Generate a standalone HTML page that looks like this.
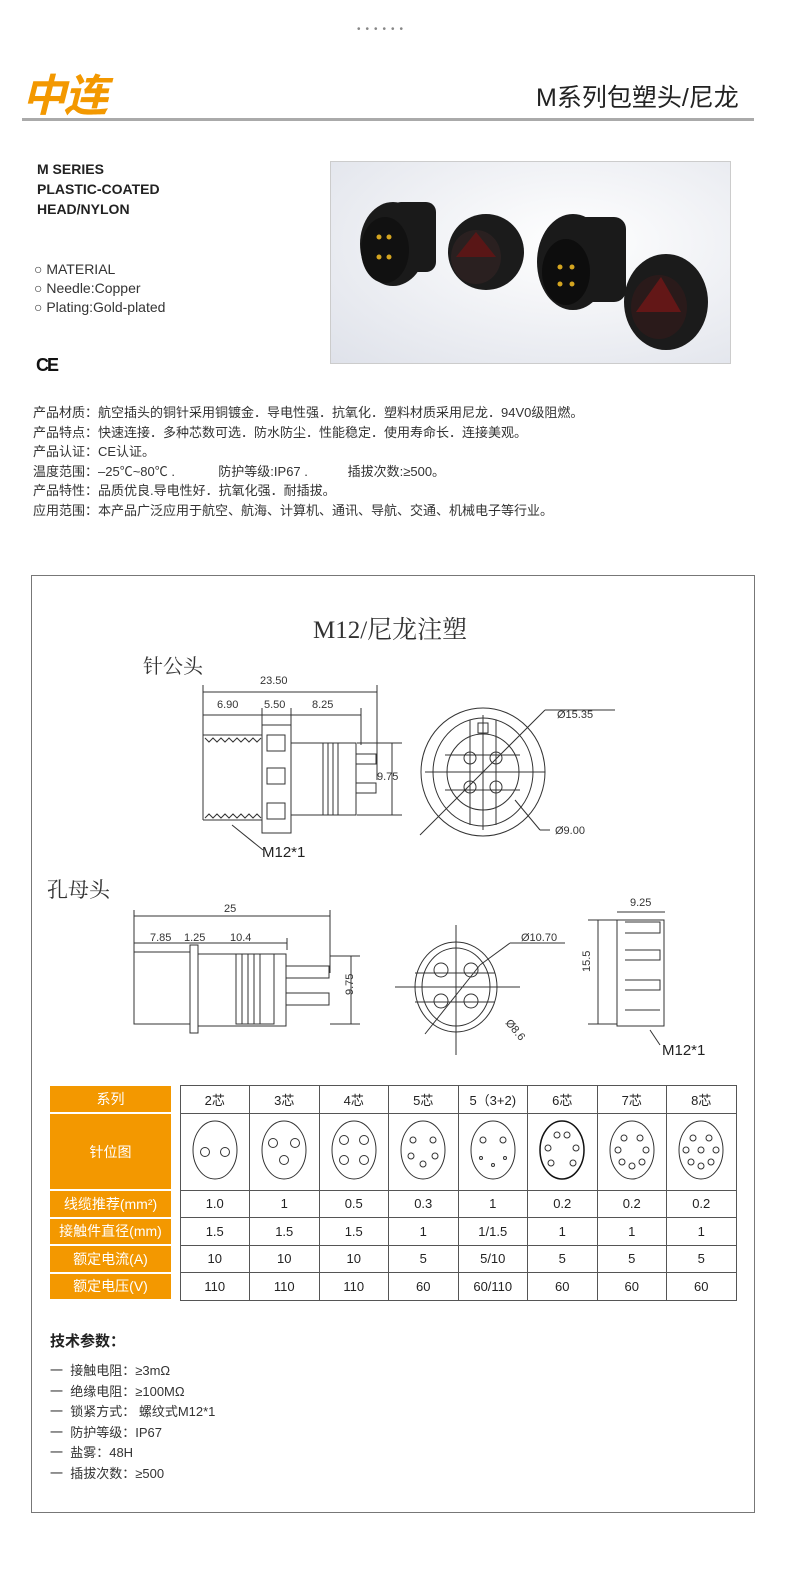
<!DOCTYPE html>
<html><head><meta charset="utf-8"><style>
*{margin:0;padding:0;box-sizing:border-box}
body{width:790px;height:1574px;background:#fff;position:relative;font-family:"Liberation Sans","Noto Sans CJK SC",sans-serif;color:#222;overflow:hidden}
.a{position:absolute;white-space:nowrap}
.desc{left:33px;top:403px;font-size:13px;line-height:19.6px;color:#333}
table{border-collapse:collapse;position:absolute;left:50px;top:1085px;font-size:13px}
td{border:1px solid #555;text-align:center;width:69.5px;height:27.5px;color:#222}
td.h{background:#f39800;color:#fff;width:121px;border:none;border-bottom:2px solid #fff;font-size:14px}
td.g{border-top:none;border-bottom:none;border-left:none;width:9px;background:#fff}
</style></head><body>
<div class="a" style="left:357px;top:24px;font-size:10px;color:#888;letter-spacing:5px">••••••</div>
<div class="a" style="left:22px;top:60px;font-size:44px;font-weight:bold;font-style:italic;color:#f39800;letter-spacing:-2px">中连</div>
<div class="a" style="left:536px;top:78px;font-size:25px;color:#222">M系列包塑头/尼龙</div>
<div class="a" style="left:22px;top:118px;width:732px;height:3px;background:#aaa"></div>
<div class="a" style="left:37px;top:159px;font-size:14px;font-weight:bold;line-height:20px">M SERIES<br>PLASTIC-COATED<br>HEAD/NYLON</div>
<div class="a" style="left:34px;top:260px;font-size:14px;line-height:19px;color:#333">○ MATERIAL<br>○ Needle:Copper<br>○ Plating:Gold-plated</div>
<div class="a" style="left:36px;top:355px;font-size:18px;font-weight:bold;letter-spacing:-2px;color:#111">CE</div>
<div class="a" style="left:330px;top:161px;width:401px;height:203px;border:1px solid #ccc;background:radial-gradient(ellipse at 60% 40%,#fff,#dfe2ea)">
<svg width="401" height="203">
<g fill="#1a1a1a"><ellipse cx="62" cy="82" rx="33" ry="42"/><rect x="60" y="40" width="45" height="70" rx="10"/><ellipse cx="54" cy="88" rx="24" ry="33" fill="#111"/></g>
<g fill="#d4a520"><circle cx="48" cy="75" r="2.5"/><circle cx="58" cy="75" r="2.5"/><circle cx="48" cy="95" r="2.5"/><circle cx="58" cy="95" r="2.5"/></g>
<ellipse cx="155" cy="90" rx="38" ry="38" fill="#1b1b1b"/><ellipse cx="145" cy="95" rx="25" ry="27" fill="#2a2020"/><path d="M125 95 L145 70 L165 95Z" fill="#7a1010" opacity=".6"/>
<g fill="#1a1a1a"><ellipse cx="242" cy="100" rx="36" ry="48"/><rect x="240" y="55" width="55" height="85" rx="12"/></g><ellipse cx="235" cy="110" rx="24" ry="33" fill="#0d0d0d"/>
<g fill="#d4a520"><circle cx="229" cy="105" r="2.5"/><circle cx="241" cy="105" r="2.5"/><circle cx="229" cy="122" r="2.5"/><circle cx="241" cy="122" r="2.5"/></g>
<ellipse cx="335" cy="140" rx="42" ry="48" fill="#1b1b1b"/><ellipse cx="328" cy="145" rx="28" ry="32" fill="#2a1a1a"/><path d="M305 150 L330 115 L350 150Z" fill="#8a1515" opacity=".6"/>
</svg></div>
<div class="a desc">产品材质：航空插头的铜针采用铜镀金．导电性强．抗氧化．塑料材质采用尼龙．94V0级阻燃。<br>产品特点：快速连接．多种芯数可选．防水防尘．性能稳定．使用寿命长．连接美观。<br>产品认证：CE认证。<br>温度范围：–25℃~80℃ .&nbsp;&nbsp;&nbsp;&nbsp;&nbsp;&nbsp;&nbsp;&nbsp;&nbsp;&nbsp;&nbsp;&nbsp;防护等级:IP67 .&nbsp;&nbsp;&nbsp;&nbsp;&nbsp;&nbsp;&nbsp;&nbsp;&nbsp;&nbsp;&nbsp;插拔次数:≥500。<br>产品特性：品质优良.导电性好．抗氧化强．耐插拔。<br>应用范围：本产品广泛应用于航空、航海、计算机、通讯、导航、交通、机械电子等行业。</div>

<div class="a" style="left:31px;top:575px;width:724px;height:938px;border:1px solid #777"></div>
<div class="a" style="left:313px;top:610px;font-size:25px;font-family:'Liberation Serif','Noto Serif CJK SC',serif;color:#333">M12/尼龙注塑</div>
<div class="a" style="left:143px;top:650px;font-size:20px;font-family:'Liberation Serif','Noto Serif CJK SC',serif;color:#333">针公头</div>
<div class="a" style="left:47px;top:874px;font-size:21px;font-family:'Liberation Serif','Noto Serif CJK SC',serif;color:#333">孔母头</div>

<svg class="a" style="left:0;top:650px" width="790" height="420" font-family="Liberation Sans" font-size="11" fill="none" stroke="#333" stroke-width="1">
<line x1="203" y1="42" x2="377" y2="42"/><line x1="203" y1="35" x2="203" y2="170"/><line x1="377" y1="35" x2="377" y2="130"/>
<line x1="203" y1="65" x2="361" y2="65"/><line x1="262" y1="58" x2="262" y2="80"/><line x1="291" y1="58" x2="291" y2="80"/><line x1="361" y1="58" x2="361" y2="95"/>
<text x="260" y="34" fill="#333" stroke="none">23.50</text><text x="217" y="58" fill="#333" stroke="none">6.90</text><text x="264" y="58" fill="#333" stroke="none">5.50</text><text x="312" y="58" fill="#333" stroke="none">8.25</text>
<path d="M203 85 L262 85 L262 170 L203 170" /><path d="M205 88 l4 4 l4 -4 l4 4 l4 -4 l4 4 l4 -4 l4 4 l4 -4 l4 4 l4 -4 l4 4 l4 -4 l4 4 l4 -4"/><path d="M205 168 l4 -4 l4 4 l4 -4 l4 4 l4 -4 l4 4 l4 -4 l4 4 l4 -4 l4 4 l4 -4 l4 4 l4 -4 l4 4"/>
<rect x="262" y="75" width="29" height="108"/><rect x="267" y="85" width="18" height="16"/><rect x="267" y="118" width="18" height="16"/><rect x="267" y="153" width="18" height="16"/>
<rect x="291" y="93" width="65" height="72"/><rect x="323" y="93" width="33" height="72"/><line x1="328" y1="93" x2="328" y2="165"/><line x1="333" y1="93" x2="333" y2="165"/><line x1="338" y1="93" x2="338" y2="165"/>
<rect x="356" y="104" width="20" height="10"/><rect x="356" y="133" width="20" height="10"/>
<line x1="357" y1="93" x2="402" y2="93"/><line x1="357" y1="165" x2="402" y2="165"/><line x1="392" y1="93" x2="392" y2="165"/><text x="377" y="130" fill="#333" stroke="none">9.75</text>
<line x1="232" y1="175" x2="263" y2="200"/><text x="262" y="207" fill="#222" stroke="none" font-size="15">M12*1</text>
<ellipse cx="483" cy="122" rx="62" ry="64"/><ellipse cx="483" cy="122" rx="50" ry="54"/><ellipse cx="483" cy="122" rx="36" ry="38"/>
<line x1="445" y1="105" x2="520" y2="105"/><line x1="445" y1="140" x2="520" y2="140"/><line x1="470" y1="70" x2="470" y2="175"/><line x1="496" y1="70" x2="496" y2="175"/>
<line x1="425" y1="122" x2="545" y2="122"/><line x1="483" y1="65" x2="483" y2="180"/>
<circle cx="470" cy="108" r="6"/><circle cx="496" cy="108" r="6"/><circle cx="470" cy="137" r="6"/><circle cx="496" cy="137" r="6"/><rect x="478" y="73" width="10" height="10"/>
<line x1="420" y1="185" x2="545" y2="60"/><line x1="545" y1="60" x2="615" y2="60"/><text x="557" y="68" fill="#333" stroke="none">Ø15.35</text>
<line x1="515" y1="150" x2="540" y2="180"/><line x1="540" y1="180" x2="550" y2="180"/><text x="555" y="184" fill="#333" stroke="none">Ø9.00</text>
<line x1="134" y1="266" x2="330" y2="266"/><line x1="134" y1="260" x2="134" y2="330"/><line x1="330" y1="260" x2="330" y2="323"/>
<line x1="134" y1="293" x2="287" y2="293"/><line x1="287" y1="288" x2="287" y2="300"/><text x="224" y="262" fill="#333" stroke="none">25</text>
<text x="150" y="291" fill="#333" stroke="none">7.85</text><text x="184" y="291" fill="#333" stroke="none">1.25</text><text x="230" y="291" fill="#333" stroke="none">10.4</text>
<rect x="134" y="302" width="56" height="72"/><rect x="190" y="295" width="8" height="88"/><rect x="198" y="304" width="88" height="72"/><rect x="236" y="304" width="38" height="70"/>
<line x1="242" y1="304" x2="242" y2="374"/><line x1="248" y1="304" x2="248" y2="374"/><line x1="254" y1="304" x2="254" y2="374"/><line x1="260" y1="304" x2="260" y2="374"/>
<rect x="286" y="316" width="43" height="12"/><rect x="286" y="343" width="43" height="12"/><line x1="330" y1="306" x2="360" y2="306"/><line x1="330" y1="374" x2="360" y2="374"/><line x1="351" y1="306" x2="351" y2="374"/>
<text x="340" y="348" fill="#333" stroke="none" transform="rotate(-90 345 340)">9.75</text>
<ellipse cx="456" cy="337" rx="41" ry="45"/><ellipse cx="456" cy="337" rx="34" ry="39"/>
<circle cx="441" cy="320" r="7"/><circle cx="471" cy="320" r="7"/><circle cx="441" cy="351" r="7"/><circle cx="471" cy="351" r="7"/>
<line x1="415" y1="323" x2="495" y2="323"/><line x1="415" y1="352" x2="495" y2="352"/><line x1="395" y1="337" x2="520" y2="337"/><line x1="456" y1="275" x2="456" y2="405"/>
<line x1="425" y1="384" x2="480" y2="315"/><line x1="480" y1="315" x2="510" y2="293"/><line x1="510" y1="293" x2="565" y2="293"/><text x="521" y="291" fill="#333" stroke="none">Ø10.70</text>
<text x="505" y="373" fill="#333" stroke="none" transform="rotate(50 505 373)">Ø8.6</text>
<rect x="617" y="270" width="47" height="106"/><line x1="617" y1="262" x2="665" y2="262"/><text x="630" y="256" fill="#333" stroke="none">9.25</text>
<path d="M625 272 L660 272 L660 283 L625 283 M625 300 L660 300 L660 310 L625 310 M625 330 L660 330 L660 340 L625 340 M625 360 L660 360"/>
<line x1="588" y1="270" x2="617" y2="270"/><line x1="588" y1="374" x2="617" y2="374"/><line x1="598" y1="270" x2="598" y2="374"/>
<text x="590" y="322" fill="#333" stroke="none" transform="rotate(-90 590 322)">15.5</text>
<line x1="650" y1="380" x2="660" y2="395"/><text x="662" y="405" fill="#222" stroke="none" font-size="15">M12*1</text>
</svg>

<table>
<tr><td class="h">系列</td><td class="g"></td><td>2芯</td><td>3芯</td><td>4芯</td><td>5芯</td><td>5（3+2)</td><td>6芯</td><td>7芯</td><td>8芯</td></tr>
<tr style="height:77px"><td class="h">针位图</td><td class="g"></td>
<td><svg width="50" height="64"><ellipse cx="25" cy="32" rx="22" ry="29" fill="none" stroke="#333"/><circle cx="15" cy="34" r="4.5" fill="none" stroke="#333"/><circle cx="35" cy="34" r="4.5" fill="none" stroke="#333"/></svg></td>
<td><svg width="50" height="64"><ellipse cx="25" cy="32" rx="22" ry="29" fill="none" stroke="#333"/><circle cx="14" cy="25" r="4.5" fill="none" stroke="#333"/><circle cx="36" cy="25" r="4.5" fill="none" stroke="#333"/><circle cx="25" cy="42" r="4.5" fill="none" stroke="#333"/></svg></td>
<td><svg width="50" height="64"><ellipse cx="25" cy="32" rx="22" ry="29" fill="none" stroke="#333"/><circle cx="15" cy="22" r="4.5" fill="none" stroke="#333"/><circle cx="35" cy="22" r="4.5" fill="none" stroke="#333"/><circle cx="15" cy="42" r="4.5" fill="none" stroke="#333"/><circle cx="35" cy="42" r="4.5" fill="none" stroke="#333"/></svg></td>
<td><svg width="50" height="64"><ellipse cx="25" cy="32" rx="22" ry="29" fill="none" stroke="#333"/><circle cx="15" cy="22" r="3" fill="none" stroke="#333"/><circle cx="35" cy="22" r="3" fill="none" stroke="#333"/><circle cx="13" cy="38" r="3" fill="none" stroke="#333"/><circle cx="37" cy="38" r="3" fill="none" stroke="#333"/><circle cx="25" cy="46" r="3" fill="none" stroke="#333"/></svg></td>
<td><svg width="50" height="64"><ellipse cx="25" cy="32" rx="22" ry="29" fill="none" stroke="#333"/><circle cx="15" cy="22" r="3" fill="none" stroke="#333"/><circle cx="35" cy="22" r="3" fill="none" stroke="#333"/><circle cx="13" cy="40" r="1.5" fill="none" stroke="#333"/><circle cx="37" cy="40" r="1.5" fill="none" stroke="#333"/><circle cx="25" cy="47" r="1.5" fill="none" stroke="#333"/></svg></td>
<td><svg width="50" height="64"><ellipse cx="25" cy="32" rx="22" ry="29" fill="none" stroke="#111" stroke-width="1.5"/><circle cx="20" cy="17" r="3" fill="none" stroke="#333"/><circle cx="30" cy="17" r="3" fill="none" stroke="#333"/><circle cx="11" cy="30" r="3" fill="none" stroke="#333"/><circle cx="39" cy="30" r="3" fill="none" stroke="#333"/><circle cx="14" cy="45" r="3" fill="none" stroke="#333"/><circle cx="36" cy="45" r="3" fill="none" stroke="#333"/></svg></td>
<td><svg width="50" height="64"><ellipse cx="25" cy="32" rx="22" ry="29" fill="none" stroke="#333"/><circle cx="17" cy="20" r="3" fill="none" stroke="#333"/><circle cx="33" cy="20" r="3" fill="none" stroke="#333"/><circle cx="11" cy="32" r="3" fill="none" stroke="#333"/><circle cx="39" cy="32" r="3" fill="none" stroke="#333"/><circle cx="15" cy="44" r="3" fill="none" stroke="#333"/><circle cx="35" cy="44" r="3" fill="none" stroke="#333"/><circle cx="25" cy="48" r="3" fill="none" stroke="#333"/></svg></td>
<td><svg width="50" height="64"><ellipse cx="25" cy="32" rx="22" ry="29" fill="none" stroke="#333"/><circle cx="17" cy="20" r="3" fill="none" stroke="#333"/><circle cx="33" cy="20" r="3" fill="none" stroke="#333"/><circle cx="10" cy="32" r="3" fill="none" stroke="#333"/><circle cx="25" cy="32" r="3" fill="none" stroke="#333"/><circle cx="40" cy="32" r="3" fill="none" stroke="#333"/><circle cx="15" cy="44" r="3" fill="none" stroke="#333"/><circle cx="35" cy="44" r="3" fill="none" stroke="#333"/><circle cx="25" cy="48" r="3" fill="none" stroke="#333"/></svg></td></tr>
<tr><td class="h">线缆推荐(mm²)</td><td class="g"></td><td>1.0</td><td>1</td><td>0.5</td><td>0.3</td><td>1</td><td>0.2</td><td>0.2</td><td>0.2</td></tr>
<tr><td class="h">接触件直径(mm)</td><td class="g"></td><td>1.5</td><td>1.5</td><td>1.5</td><td>1</td><td>1/1.5</td><td>1</td><td>1</td><td>1</td></tr>
<tr><td class="h">额定电流(A)</td><td class="g"></td><td>10</td><td>10</td><td>10</td><td>5</td><td>5/10</td><td>5</td><td>5</td><td>5</td></tr>
<tr><td class="h">额定电压(V)</td><td class="g"></td><td>110</td><td>110</td><td>110</td><td>60</td><td>60/110</td><td>60</td><td>60</td><td>60</td></tr>
</table>
<div class="a" style="left:50px;top:1330px;font-size:15px;font-weight:bold;color:#222">技术参数：</div>
<div class="a" style="left:50px;top:1361px;font-size:13px;line-height:20.5px;color:#333">一&nbsp; 接触电阻：≥3mΩ<br>一&nbsp; 绝缘电阻：≥100MΩ<br>一&nbsp; 锁紧方式： 螺纹式M12*1<br>一&nbsp; 防护等级：IP67<br>一&nbsp; 盐雾：48H<br>一&nbsp; 插拔次数：≥500</div>
</body></html>
